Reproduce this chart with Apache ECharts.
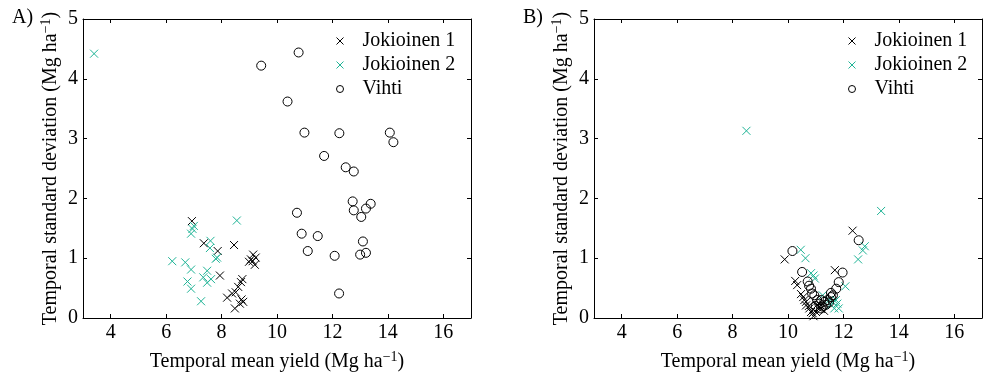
<!DOCTYPE html>
<html>
<head>
<meta charset="utf-8">
<script src="https://cdn.jsdelivr.net/npm/echarts@6/dist/echarts.min.js"></script>
<style>html,body{margin:0;padding:0;background:#fff}#c{width:985px;height:377px}</style>
</head>
<body>
<div id="c"></div>
<script>
// ---- data ----
const xTicks = [4, 6, 8, 10, 12, 14, 16];
const yTicks = [0, 1, 2, 3, 4, 5];
const seriesNames = ['Jokioinen 1', 'Jokioinen 2', 'Vihti'];
const panelLabels = ['A)', 'B)'];
const xTitle = 'Temporal mean yield (Mg ha';
const yTitle = 'Temporal standard deviation (Mg ha';

const aJok1 = [[6.93,1.62],[7.36,1.25],[7.86,1.12],[8.45,1.22],[7.94,0.71],[9.14,1.06],[9.06,0.98],[9.23,1.01],[8.99,0.94],[9.20,0.89],[9.12,0.95],[8.75,0.65],[8.70,0.60],[8.60,0.52],[8.51,0.43],[8.38,0.41],[8.20,0.34],[8.72,0.31],[8.78,0.27],[8.66,0.24],[8.48,0.16]];
const aJok2 = [[3.40,4.42],[8.55,1.63],[7.00,1.54],[6.95,1.49],[6.90,1.41],[7.60,1.29],[7.58,1.17],[7.79,0.99],[7.84,1.01],[6.22,0.95],[6.69,0.93],[6.90,0.81],[7.48,0.79],[7.34,0.68],[7.62,0.65],[7.48,0.59],[6.77,0.61],[6.90,0.49],[7.26,0.28]];
const aVihti = [[10.78,4.44],[9.43,4.22],[10.38,3.62],[10.99,3.10],[12.25,3.09],[14.07,3.10],[14.20,2.94],[11.70,2.71],[12.48,2.52],[12.77,2.45],[12.73,1.95],[13.38,1.91],[13.21,1.83],[12.77,1.80],[13.04,1.69],[10.72,1.76],[10.89,1.41],[11.47,1.37],[13.10,1.28],[11.11,1.12],[12.08,1.04],[13.00,1.06],[13.21,1.09],[12.24,0.41]];

const bJok1 = [[12.33,1.46],[9.88,0.98],[10.26,0.62],[10.33,0.55],[10.47,0.40],[11.69,0.80],[10.59,0.30],[10.65,0.21],[10.77,0.16],[10.83,0.10],[10.92,0.03],[11.13,0.19],[11.20,0.15],[11.01,0.10],[10.65,0.27],[10.89,0.08],[11.30,0.12],[10.55,0.35],[11.05,0.22],[10.75,0.20]];
const bJok2 = [[8.50,3.13],[13.36,1.79],[12.77,1.20],[12.70,1.13],[12.53,0.98],[10.46,1.14],[10.63,1.00],[10.83,0.75],[10.97,0.66],[12.07,0.53],[11.25,0.38],[11.49,0.30],[11.61,0.27],[11.73,0.30],[11.83,0.16],[11.67,0.16],[11.55,0.22],[11.78,0.24],[10.92,0.71]];
const bVihti = [[12.55,1.30],[10.16,1.12],[10.51,0.77],[10.71,0.61],[10.76,0.54],[11.97,0.76],[11.83,0.60],[11.74,0.49],[10.87,0.41],[11.55,0.42],[10.83,0.49],[10.95,0.38],[11.13,0.24],[11.25,0.19],[11.31,0.27],[11.43,0.30],[11.55,0.35],[11.19,0.16],[11.05,0.30],[11.37,0.22],[11.48,0.26],[11.20,0.30],[11.62,0.38],[11.00,0.20]];

// ---- styling ----
const FONT = 'Liberation Serif';
const GREEN = '#1fb496';
const CROSS = 'path://M0,0L10,10M10,0L0,10';
const grids = [
  {left: 83, top: 19, width: 388, height: 304},
  {left: 594, top: 19, width: 388, height: 304}
];
const richName = {
  a: {fontSize: 20, fontFamily: FONT, color: '#000', lineHeight: 24},
  s: {fontSize: 14, fontFamily: FONT, color: '#000', lineHeight: 6, verticalAlign: 'top'}
};
function nameText(t) { return '{a|' + t + '}{s|\u22121}{a|)}'; }

const xAxes = [], yAxes = [], series = [], legends = [], titles = [];
[0, 1].forEach(function (g) {
  const tick = {show: true, inside: true, length: 4, lineStyle: {color: '#000', width: 1}, customValues: xTicks};
  xAxes.push({
    gridIndex: g, type: 'value', position: 'bottom', min: 3, max: 17,
    axisLine: {show: true, onZero: false, lineStyle: {color: '#000', width: 1}},
    axisTick: tick,
    axisLabel: {show: true, customValues: xTicks, margin: 5, fontSize: 20, fontFamily: FONT, color: '#000'},
    splitLine: {show: false},
    name: nameText(xTitle), nameLocation: 'middle', nameGap: 32,
    nameTextStyle: {rich: richName}
  });
  xAxes.push({
    gridIndex: g, type: 'value', position: 'top', min: 3, max: 17,
    axisLine: {show: true, onZero: false, lineStyle: {color: '#000', width: 1}},
    axisTick: tick, axisLabel: {show: false}, splitLine: {show: false}
  });
  const ytick = {show: true, inside: true, length: 4, lineStyle: {color: '#000', width: 1}, customValues: yTicks};
  yAxes.push({
    gridIndex: g, type: 'value', position: 'left', min: 0, max: 5,
    axisLine: {show: true, onZero: false, lineStyle: {color: '#000', width: 1}},
    axisTick: ytick,
    axisLabel: {show: true, customValues: yTicks, margin: 5, fontSize: 20, fontFamily: FONT, color: '#000'},
    splitLine: {show: false},
    name: nameText(yTitle), nameLocation: 'middle', nameGap: 20, nameRotate: 90,
    nameTextStyle: {rich: richName}
  });
  yAxes.push({
    gridIndex: g, type: 'value', position: 'right', min: 0, max: 5,
    axisLine: {show: true, onZero: false, lineStyle: {color: '#000', width: 1}},
    axisTick: ytick, axisLabel: {show: false}, splitLine: {show: false}
  });
});

const panelData = [[aJok1, aJok2, aVihti], [bJok1, bJok2, bVihti]];
const colors = ['#000', GREEN, '#000'];
panelData.forEach(function (sets, g) {
  sets.forEach(function (d, k) {
    series.push({
      name: seriesNames[k], type: 'scatter', xAxisIndex: g * 2, yAxisIndex: g * 2,
      data: d,
      symbol: k === 2 ? 'circle' : CROSS,
      symbolSize: k === 2 ? 9 : 8,
      symbolKeepAspect: true,
      itemStyle: {color: 'rgba(0,0,0,0)', borderColor: colors[k], borderWidth: 1, opacity: 1},
      emphasis: {disabled: true},
      silent: true
    });
  });
  legends.push({
    show: true, orient: 'vertical', left: g === 0 ? 336 : 848, top: 29,
    padding: 0, itemGap: 0, itemWidth: 7, itemHeight: 7,
    selectedMode: false,
    data: seriesNames.map(function (n, k) {
      return {name: n, itemStyle: {color: 'rgba(0,0,0,0)', borderColor: colors[k], borderWidth: 1}};
    }),
    textStyle: {fontSize: 20, fontFamily: FONT, color: '#000', lineHeight: 24, padding: [0, 0, 0, 14]},
    formatter: function (n) { return n; }
  });
  titles.push({
    text: panelLabels[g], left: g === 0 ? 7 : 518, top: 3,
    textStyle: {fontSize: 20, fontFamily: FONT, fontWeight: 'normal', color: '#000'}
  });
});
legends[0].seriesIndex = [0, 1, 2];
legends[1].seriesIndex = [3, 4, 5];

const chart = echarts.init(document.getElementById('c'), null, {renderer: 'canvas'});
chart.setOption({
  animation: false,
  backgroundColor: '#fff',
  title: titles,
  grid: grids,
  xAxis: xAxes,
  yAxis: yAxes,
  legend: legends,
  series: series
});
</script>
</body>
</html>
